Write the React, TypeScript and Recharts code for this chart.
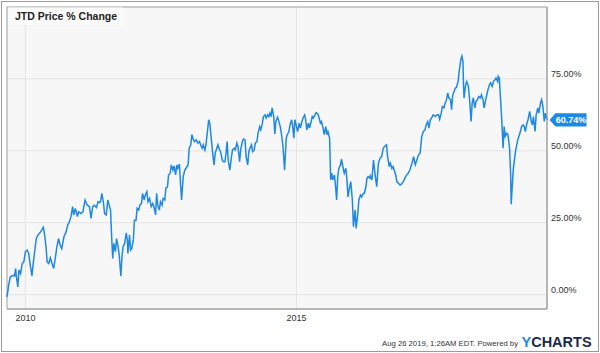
import React from "react";
import {
  LineChart,
  Line,
  XAxis,
  YAxis,
  CartesianGrid,
  ReferenceArea,
  ReferenceDot,
} from "recharts";

// weekly-ish samples: decimal year and % change
const years = [
  2009.66, 2009.69, 2009.72, 2009.77, 2009.8, 2009.82, 2009.83, 2009.86, 2009.88, 2009.91,
  2009.94, 2009.97, 2010.0, 2010.03, 2010.06, 2010.09, 2010.12, 2010.14, 2010.17, 2010.2,
  2010.23, 2010.26, 2010.3, 2010.33, 2010.35, 2010.38, 2010.4, 2010.43, 2010.46, 2010.49,
  2010.52, 2010.55, 2010.58, 2010.61, 2010.64, 2010.67, 2010.71, 2010.75, 2010.78, 2010.81,
  2010.84, 2010.87, 2010.89, 2010.92, 2010.96, 2010.98, 2011.02, 2011.06, 2011.1, 2011.14,
  2011.18, 2011.21, 2011.24, 2011.27, 2011.31, 2011.34, 2011.37, 2011.39, 2011.41, 2011.44,
  2011.46, 2011.49, 2011.52, 2011.55, 2011.57, 2011.59, 2011.61, 2011.63, 2011.66, 2011.68,
  2011.71, 2011.73, 2011.76, 2011.78, 2011.8, 2011.83, 2011.86, 2011.88, 2011.89, 2011.92,
  2011.94, 2011.96, 2011.99, 2012.01, 2012.04, 2012.06, 2012.09, 2012.11, 2012.14, 2012.16,
  2012.19, 2012.21, 2012.24, 2012.26, 2012.29, 2012.32, 2012.35, 2012.37, 2012.4, 2012.42,
  2012.44, 2012.47, 2012.49, 2012.52, 2012.54, 2012.57, 2012.59, 2012.62, 2012.64, 2012.67,
  2012.69, 2012.72, 2012.74, 2012.77, 2012.79, 2012.81, 2012.84, 2012.86, 2012.88, 2012.91,
  2012.94, 2012.97, 2013.0, 2013.02, 2013.05, 2013.07, 2013.1, 2013.12, 2013.15, 2013.18,
  2013.21, 2013.23, 2013.26, 2013.28, 2013.31, 2013.33, 2013.36, 2013.38, 2013.4, 2013.43,
  2013.46, 2013.48, 2013.5, 2013.53, 2013.55, 2013.58, 2013.6, 2013.63, 2013.65, 2013.68,
  2013.7, 2013.72, 2013.74, 2013.77, 2013.8, 2013.82, 2013.85, 2013.87, 2013.9, 2013.92,
  2013.95, 2013.97, 2014.0, 2014.02, 2014.05, 2014.07, 2014.1, 2014.12, 2014.14, 2014.17,
  2014.19, 2014.22, 2014.24, 2014.27, 2014.29, 2014.32, 2014.34, 2014.37, 2014.39, 2014.42,
  2014.44, 2014.47, 2014.49, 2014.51, 2014.53, 2014.55, 2014.58, 2014.6, 2014.62, 2014.65,
  2014.67, 2014.7, 2014.72, 2014.75, 2014.78, 2014.81, 2014.83, 2014.86, 2014.88, 2014.91,
  2014.93, 2014.95, 2014.97, 2015.0, 2015.02, 2015.05, 2015.07, 2015.1, 2015.12, 2015.15,
  2015.17, 2015.19, 2015.22, 2015.24, 2015.27, 2015.29, 2015.31, 2015.34, 2015.36, 2015.39,
  2015.41, 2015.44, 2015.46, 2015.49, 2015.51, 2015.54, 2015.56, 2015.58, 2015.61, 2015.63,
  2015.65, 2015.67, 2015.7, 2015.72, 2015.74, 2015.76, 2015.78, 2015.81, 2015.83, 2015.86,
  2015.88, 2015.91, 2015.93, 2015.95, 2015.98, 2016.0, 2016.03, 2016.05, 2016.08, 2016.1,
  2016.13, 2016.15, 2016.18, 2016.2, 2016.23, 2016.25, 2016.28, 2016.3, 2016.32, 2016.35,
  2016.36, 2016.39, 2016.42, 2016.45, 2016.48, 2016.51, 2016.54, 2016.57, 2016.6, 2016.63,
  2016.66, 2016.68, 2016.71, 2016.73, 2016.76, 2016.78, 2016.8, 2016.83, 2016.85, 2016.88,
  2016.91, 2016.94, 2016.97, 2017.0, 2017.03, 2017.06, 2017.09, 2017.13, 2017.16, 2017.19,
  2017.22, 2017.25, 2017.28, 2017.31, 2017.34, 2017.37, 2017.39, 2017.42, 2017.44, 2017.47,
  2017.49, 2017.52, 2017.56, 2017.59, 2017.62, 2017.64, 2017.67, 2017.69, 2017.72, 2017.74,
  2017.76, 2017.79, 2017.81, 2017.84, 2017.86, 2017.88, 2017.91, 2017.93, 2017.95, 2017.98,
  2018.0, 2018.03, 2018.05, 2018.07, 2018.08, 2018.09, 2018.12, 2018.14, 2018.17, 2018.19,
  2018.22, 2018.24, 2018.26, 2018.29, 2018.31, 2018.34, 2018.36, 2018.39, 2018.41, 2018.44,
  2018.46, 2018.49, 2018.51, 2018.53, 2018.56, 2018.58, 2018.61, 2018.63, 2018.66, 2018.68,
  2018.71, 2018.72, 2018.74, 2018.77, 2018.79, 2018.81, 2018.83, 2018.85, 2018.88, 2018.9,
  2018.93, 2018.95, 2018.96, 2018.98, 2019.0, 2019.03, 2019.05, 2019.08, 2019.1, 2019.13,
  2019.15, 2019.18, 2019.2, 2019.22, 2019.25, 2019.27, 2019.3, 2019.33, 2019.35, 2019.37,
  2019.4, 2019.42, 2019.45, 2019.47, 2019.5, 2019.52, 2019.54, 2019.57, 2019.59, 2019.62,
];

const changes = [
  -0.8, 3.2, 6.1, 6.7, 6.5, 9.1, 6.7, 2.7, 8.5, 7.3,
  10.8, 11.4, 14.9, 15.5, 14.3, 10.2, 6.5, 10.2, 14.9, 19.5,
  20.7, 21.3, 22.4, 23.4, 21.3, 16.6, 11.4, 10.8, 12.8, 10.8,
  9.1, 12.6, 16.6, 19.5, 17.2, 16.0, 20.1, 21.8, 24.2, 25.3,
  27.1, 30.6, 27.7, 30.0, 27.1, 28.8, 28.2, 28.8, 32.9, 31.1,
  30.6, 26.5, 30.6, 31.1, 30.3, 32.3, 32.0, 32.9, 35.2, 31.7,
  28.2, 27.7, 32.9, 30.6, 29.4, 20.1, 12.6, 17.8, 14.9, 19.5,
  16.6, 13.7, 6.4, 13.1, 16.6, 17.8, 21.5, 18.9, 14.3, 20.7,
  15.5, 16.0, 18.9, 25.9, 25.9, 30.0, 29.4, 31.1, 31.7, 35.2,
  32.9, 34.6, 35.8, 32.3, 33.5, 30.6, 31.7, 30.6, 27.7, 35.2,
  31.1, 29.4, 32.3, 31.1, 33.5, 32.9, 37.0, 37.5, 41.6, 42.2,
  45.1, 43.3, 44.7, 41.6, 45.1, 43.9, 45.4, 38.7, 32.9, 41.0,
  43.3, 44.2, 45.1, 50.9, 52.1, 55.6, 53.8, 53.2, 53.8, 52.7,
  53.2, 52.1, 50.9, 52.1, 50.3, 52.1, 57.3, 60.8, 59.6, 53.8,
  48.0, 45.1, 49.2, 50.9, 52.1, 50.3, 49.7, 46.8, 46.2, 46.2,
  49.2, 53.2, 46.8, 43.3, 48.0, 50.3, 50.9, 50.3, 52.7, 51.5,
  46.2, 50.3, 53.2, 54.1, 53.8, 48.0, 45.1, 49.7, 50.9, 52.1,
  49.7, 50.3, 52.7, 53.2, 56.1, 58.4, 57.3, 59.6, 61.9, 62.5,
  61.4, 62.5, 61.9, 63.1, 61.9, 64.9, 61.9, 55.9, 60.3, 61.7,
  60.5, 58.4, 56.1, 51.5, 43.3, 54.4, 55.6, 56.7, 59.0, 60.8,
  58.4, 54.4, 60.8, 58.4, 56.7, 59.6, 57.9, 60.2, 61.4, 62.5,
  60.8, 57.3, 59.6, 57.9, 60.2, 61.9, 61.4, 62.5, 63.3, 62.9,
  61.9, 59.6, 60.2, 57.9, 55.6, 58.4, 55.6, 56.7, 54.4, 39.9,
  42.2, 39.9, 41.6, 37.5, 32.9, 41.0, 43.9, 45.1, 47.1, 43.9,
  42.2, 43.9, 39.9, 34.0, 37.5, 39.3, 32.9, 23.6, 29.4, 23.0,
  28.2, 32.9, 34.6, 34.0, 35.2, 35.2, 37.5, 40.5, 41.0, 40.5,
  41.3, 39.9, 46.8, 41.6, 37.5, 45.7, 47.4, 48.0, 50.9, 51.7,
  52.1, 48.0, 44.5, 45.7, 43.9, 44.5, 43.3, 41.6, 39.3, 38.7,
  38.1, 38.5, 39.3, 40.5, 41.6, 42.2, 43.3, 45.7, 48.0, 45.1,
  46.8, 48.6, 49.2, 55.0, 56.7, 57.3, 59.0, 60.2, 57.9, 60.8,
  61.4, 62.5, 61.9, 62.5, 62.5, 61.0, 63.1, 65.4, 64.9, 66.6,
  67.2, 70.1, 68.4, 67.8, 64.3, 69.2, 70.9, 71.8, 72.0, 74.1,
  77.6, 81.7, 82.9, 81.1, 73.0, 68.4, 73.0, 74.1, 72.4, 68.4,
  60.2, 66.6, 68.4, 64.9, 67.2, 67.8, 68.9, 68.4, 69.5, 67.8,
  64.9, 67.8, 69.5, 71.2, 73.0, 73.6, 72.4, 74.1, 74.7, 75.3,
  74.1, 75.9, 75.3, 66.0, 59.0, 50.9, 58.4, 55.0, 56.1, 55.6,
  50.9, 41.6, 31.4, 38.1, 43.9, 48.6, 50.9, 53.8, 55.0, 56.7,
  58.4, 59.0, 58.4, 56.7, 59.6, 60.8, 63.7, 60.2, 59.0, 61.9,
  56.7, 62.5, 64.9, 63.1, 66.6, 67.8, 66.0, 60.2, 63.1, 60.74,
];

const xTicks = [2010, 2015];
const yTicks = [0, 25, 50, 75];
const yDomain = [-5, 100];

const data = years.map((x, i) => ({ x, v: changes[i] }));
const last = data[data.length - 1];

const FONT = '"Liberation Sans", Arial, Helvetica, sans-serif';
const BLUE = "#1e88e5";

const YTick = (props: any) => {
  const { x, y, payload } = props;
  return (
    <text x={x} y={y - 2} fontSize={9} fill="#333" fontFamily={FONT} textAnchor="start">
      {payload.value.toFixed(2)}%
    </text>
  );
};

const XTick = (props: any) => {
  const { x, y, payload } = props;
  return (
    <text x={x} y={y + 6} fontSize={9} fill="#333" fontFamily={FONT} textAnchor="middle">
      {payload.value}
    </text>
  );
};

const LastTag = (props: any) => {
  const { cx, cy } = props;
  const left = cx + 2.5;
  return (
    <g>
      <polygon
        points={`${left},${cy} ${left + 6},${cy - 6.7} ${left + 37},${cy - 6.7} ${left + 37},${cy + 6.7} ${left + 6},${cy + 6.7}`}
        fill={BLUE}
      />
      <text
        x={left + 21.5}
        y={cy + 3.2}
        fontSize={9}
        fontWeight="bold"
        fill="#fff"
        textAnchor="middle"
        fontFamily={FONT}
      >
        {last.v.toFixed(2)}%
      </text>
    </g>
  );
};

export default function App() {
  return (
    <div style={{ position: "absolute", left: 0, top: 0, width: 600, height: 353, background: "#fff" }}>
      <LineChart
        width={600}
        height={353}
        data={data}
        margin={{ top: 7, right: 0, bottom: 0, left: 7 }}
      >
        <CartesianGrid fill="#f7f7f7" stroke="#e4e4e4" />
        <XAxis
          dataKey="x"
          type="number"
          domain={["dataMin", "dataMax"]}
          ticks={xTicks}
          height={44}
          tickLine={false}
          tickSize={0}
          tickMargin={6}
          axisLine={{ stroke: "#a0a0a0" }}
          tick={<XTick />}
        />
        <YAxis
          orientation="right"
          domain={yDomain}
          ticks={yTicks}
          width={53}
          tickLine={false}
          tickSize={0}
          tickMargin={4}
          axisLine={{ stroke: "#a0a0a0" }}
          tick={<YTick />}
        />
        <ReferenceArea
          x1={years[0]}
          x2={years[years.length - 1]}
          y1={yDomain[0]}
          y2={yDomain[1]}
          fill="none"
          stroke="#a8a8a8"
          ifOverflow="visible"
        />
        <Line
          type="linear"
          dataKey="v"
          stroke={BLUE}
          strokeWidth={1.5}
          dot={false}
          isAnimationActive={false}
        />
        <ReferenceDot
          x={last.x}
          y={last.v}
          r={0}
          ifOverflow="visible"
          shape={(p: any) => <LastTag cx={p.cx} cy={p.cy} />}
        />
      </LineChart>
      <svg
        width={600}
        height={353}
        style={{ position: "absolute", left: 0, top: 0, pointerEvents: "none" }}
      >
        <rect x={1.5} y={1.5} width={597} height={350} fill="none" stroke="#9a9a9a" />
        <rect x={8} y={7.5} width={115} height={17.5} fill="#fbfbfb" />
        <text x={15} y={20} fontSize={10.5} fontWeight="bold" fill="#222" fontFamily={FONT}>
          JTD Price % Change
        </text>
        <text x={518} y={346} fontSize={7.7} fill="#333" textAnchor="end" fontFamily={FONT}>
          Aug 26 2019, 1:26AM EDT.  Powered by
        </text>
        <text x={521.5} y={346.7} fontSize={14.5} fontWeight="bold" fontFamily={FONT}>
          <tspan fill="#1a8fe3">Y</tspan>
          <tspan fill="#1c2b4a">CHARTS</tspan>
        </text>
      </svg>
    </div>
  );
}
